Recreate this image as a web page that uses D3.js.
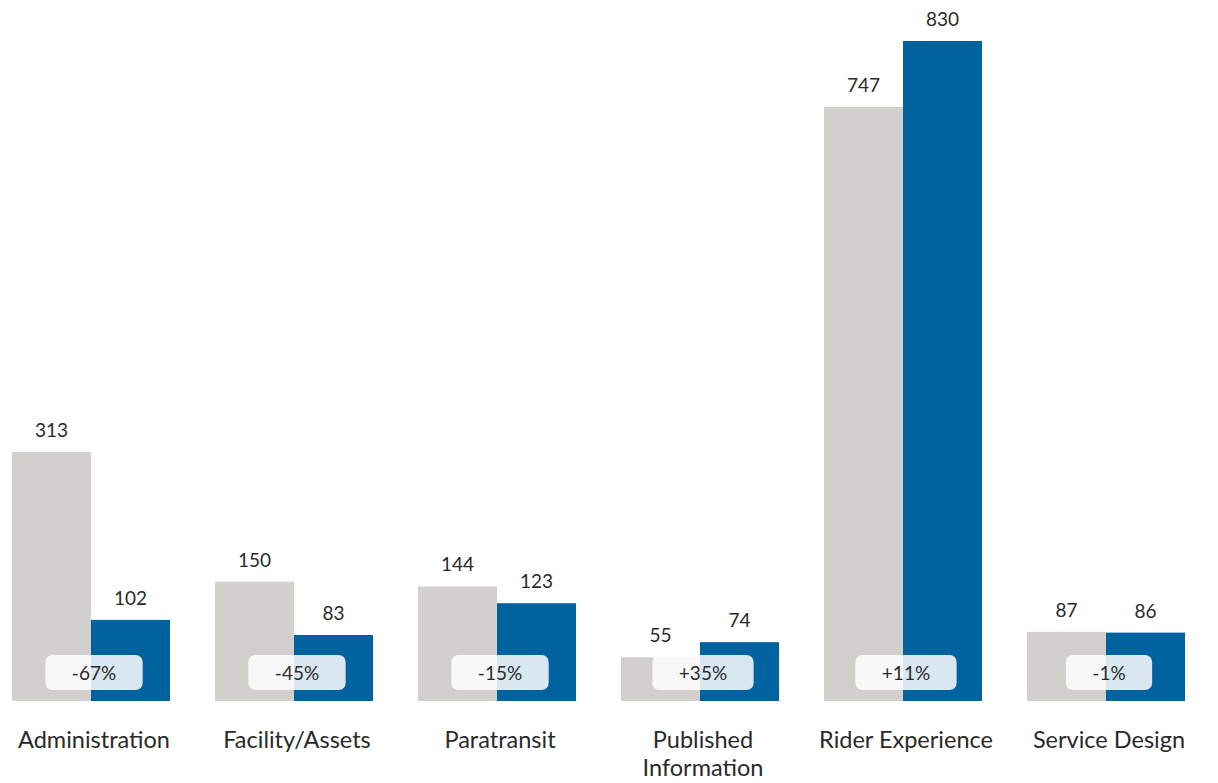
<!DOCTYPE html>
<html>
<head>
<meta charset="utf-8">
<script src="https://cdn.jsdelivr.net/npm/d3@7"></script>
<style>
  html, body { margin: 0; padding: 0; background: #ffffff; }
  svg { display: block; font-family: Lato, "Open Sans", sans-serif; }
</style>
</head>
<body>
<svg id="chart" width="1218" height="783"></svg>
<script>
// Category names (line breaks marked with "\n")
const categories = ["Administration", "Facility/Assets", "Paratransit", "Published\nInformation", "Rider Experience", "Service Design"];
// Prior-period counts (grey) and current-period counts (blue)
const priorValues = [313, 150, 144, 55, 747, 87];
const currentValues = [102, 83, 123, 74, 830, 86];
// Change labels shown in the badges
const changeLabels = ["-67%", "-45%", "-15%", "+35%", "+11%", "-1%"];

const svg = d3.select("#chart");
const baseY = 701;
const topY = 41;

const x = d3.scaleBand()
  .domain(categories)
  .range([12, 1185])
  .paddingInner(45 / 203)
  .paddingOuter(0);

const y = d3.scaleLinear()
  .domain([0, 830])
  .range([baseY, topY]);

const series = [
  { key: "prior", values: priorValues, color: "#d2d0cd", offset: 0 },
  { key: "current", values: currentValues, color: "#00629f", offset: 1 }
];

const half = x.bandwidth() / 2;
const textColor = "#2a2a2a";

const groups = svg.selectAll("g.group")
  .data(categories)
  .join("g")
  .attr("class", "group")
  .attr("transform", d => `translate(${x(d)},0)`);

series.forEach(s => {
  groups.append("rect")
    .attr("x", s.offset * half)
    .attr("width", half)
    .attr("y", (d, i) => y(s.values[i]))
    .attr("height", (d, i) => baseY - y(s.values[i]))
    .attr("fill", s.color);

  groups.append("text")
    .attr("x", s.offset * half + half / 2)
    .attr("y", (d, i) => y(s.values[i]) - 15)
    .attr("text-anchor", "middle")
    .attr("font-size", 19)
    .attr("fill", textColor)
    .text((d, i) => s.values[i]);
});

// Change badges: translucent rounded boxes straddling both bars
groups.each(function (d, i) {
  const g = d3.select(this);
  const cx = half + 3;
  const label = g.append("text")
    .attr("x", cx)
    .attr("y", 680)
    .attr("text-anchor", "middle")
    .attr("font-size", 19)
    .attr("fill", textColor)
    .text(changeLabels[i]);
  const w = label.node().getComputedTextLength() + 53;
  g.insert("rect", function () { return label.node(); })
    .attr("x", cx - w / 2)
    .attr("y", 655)
    .attr("width", w)
    .attr("height", 35)
    .attr("rx", 7)
    .attr("fill", "#ffffff")
    .attr("fill-opacity", 0.85);
});

// Category labels beneath the bars
groups.append("text")
  .attr("text-anchor", "middle")
  .attr("font-size", 23.5)
  .attr("fill", textColor)
  .each(function (d) {
    const t = d3.select(this);
    d.split("\n").forEach((line, j) => {
      t.append("tspan")
        .attr("x", half + 3)
        .attr("y", 748 + j * 28)
        .text(line);
    });
  });
</script>
</body>
</html>
